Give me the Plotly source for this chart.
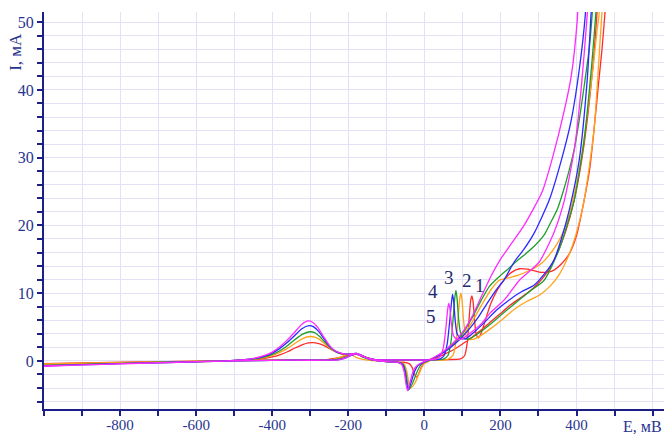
import plotly.graph_objects as go

# Potentiodynamic curves 1..5: forward sweep then reverse sweep (E in mV, I in mA)
E_fwd_1 = [-1000, -900, -800, -700, -600, -520, -480, -450, -420, -400, -380, -360, -340, -320, -305,
           -293, -280, -265, -250, -235, -220, -205, -190, -178, -165, -150, -130, -100, -50, 0,
           60, 95, 106, 113, 118, 122, 125, 128, 132, 136, 142, 150, 163, 175, 190,
           210, 230, 250, 275, 302, 325, 341, 360, 381, 400, 420, 435, 446, 458, 467, 475, 490]
I_fwd_1 = [-0.45, -0.35, -0.27, -0.18, -0.1, 0.0, 0.1, 0.2, 0.38, 0.58, 0.9, 1.35, 1.9, 2.4, 2.65,
           2.7, 2.6, 2.3, 1.85, 1.4, 1.05, 0.9, 0.95, 1.0, 0.8, 0.45, 0.2, 0.15, 0.15, 0.15,
           0.2, 0.3, 0.8, 2.8, 6.5, 9.0, 9.6, 8.8, 6.0, 4.0, 3.4, 4.2, 6.5, 8.5, 10.3,
           12.0, 13.1, 13.6, 13.5, 13.1, 13.1, 13.4, 14.3, 15.8, 18.5, 23.7, 28.5, 34.1, 41, 46, 51.5, 65]
E_rev_1 = [468, 454, 444, 420, 395, 372, 350, 325, 300, 275, 250, 225, 200, 175, 150,
           125, 100, 75, 50, 25, 10, 0, -8, -14, -20, -26, -32, -40, -55, -100,
           -130, -160, -178, -195, -215, -240, -265, -300, -400, -500, -600, -750, -900, -1000]
I_rev_1 = [65, 51.5, 44, 32, 24, 19.2, 16, 13.3, 11.5, 10.2, 9.2, 8.2, 7, 5.8, 4.6,
           3.5, 2.5, 1.6, 0.9, 0.3, 0.0, -0.3, -0.9, -1.8, -2.4, -2.0, -1.0, -0.4, -0.2, -0.1,
           0.1, 0.6, 0.95, 0.9, 0.6, 0.35, 0.15, 0.1, 0.1, 0.05, -0.05, -0.15, -0.3, -0.4]

E_fwd_2 = [-1000, -900, -800, -700, -600, -520, -480, -450, -420, -400, -380, -360, -340, -320, -300,
           -288, -274, -259, -244, -229, -214, -200, -188, -178, -165, -150, -130, -100, -50, 0,
           60, 75, 83, 89, 93, 96, 99, 103, 108, 116, 130, 150, 175, 200, 236,
           270, 302, 330, 354, 375, 394, 420, 446, 462, 467, 480]
I_fwd_2 = [-0.5, -0.4, -0.3, -0.2, -0.1, 0.0, 0.12, 0.25, 0.5, 0.8, 1.25, 1.85, 2.6, 3.3, 3.6,
           3.5, 3.1, 2.4, 1.7, 1.25, 1.0, 0.95, 1.0, 1.05, 0.8, 0.45, 0.2, 0.15, 0.15, 0.15,
           0.2, 0.8, 2.8, 6.5, 9.2, 10.0, 9.0, 6.0, 4.0, 3.2, 3.2, 3.8, 4.8, 5.9, 7.6,
           8.8, 9.7, 11.0, 12.7, 15.0, 17.8, 23.7, 34.1, 47.3, 51.5, 65]
E_rev_2 = [472, 459, 454, 444, 433, 418, 402, 385, 367, 348, 328, 310, 289, 270, 249,
           225, 197, 175, 150, 125, 100, 75, 50, 25, 10, 0, -7, -15, -25, -36,
           -41, -46, -53, -68, -100, -150, -175, -195, -210, -230, -255, -290, -400, -500, -600,
           -750, -900, -1000]
I_rev_2 = [65, 51, 48.8, 43.5, 38.5, 32, 26.7, 22.5, 19.3, 17.2, 15.6, 14.5, 13.7, 13.2, 12.7,
           12.3, 11.9, 10.5, 8.2, 5.7, 3.7, 2.3, 1.2, 0.35, -0.1, -0.4, -1.0, -2.0, -3.3, -4.0,
           -3.2, -1.6, -0.5, -0.2, -0.1, 0.1, 0.4, 0.95, 0.8, 0.35, 0.15, 0.1, 0.1, 0.05, -0.05,
           -0.2, -0.35, -0.45]

E_fwd_3 = [-1000, -900, -800, -700, -600, -520, -480, -450, -420, -400, -380, -360, -340, -320, -301,
           -290, -276, -261, -246, -231, -216, -201, -188, -178, -165, -150, -130, -100, -50, 0,
           50, 62, 70, 76, 80, 83, 86, 90, 95, 105, 120, 145, 175, 200, 249,
           280, 315, 354, 375, 394, 420, 441, 451, 465]
I_fwd_3 = [-0.7, -0.5, -0.38, -0.26, -0.13, 0.0, 0.13, 0.28, 0.6, 0.95, 1.5, 2.25, 3.15, 3.95, 4.3,
           4.2, 3.65, 2.75, 1.85, 1.3, 1.05, 1.0, 1.05, 1.1, 0.8, 0.45, 0.2, 0.15, 0.15, 0.15,
           0.25, 0.8, 2.8, 6.5, 9.3, 10.4, 9.2, 6.2, 4.2, 3.3, 3.3, 4.2, 5.5, 6.7, 9.0,
           10.4, 11.9, 16.4, 20.0, 23.7, 32.6, 44.4, 51.5, 65]
E_rev_3 = [458, 441, 433, 420, 407, 395, 381, 365, 349, 330, 315, 290, 262, 240, 223,
           200, 171, 150, 125, 100, 75, 50, 25, 10, -5, -13, -22, -31, -40, -44,
           -49, -56, -70, -100, -140, -160, -178, -195, -215, -240, -270, -350, -450, -550, -700,
           -850, -1000]
I_rev_3 = [65, 51, 45.9, 40.5, 35.5, 31.5, 28.2, 25, 22.3, 20.2, 18.6, 17.0, 15.6, 14.6, 13.7,
           12.6, 11.0, 9.0, 6.3, 4.0, 2.5, 1.3, 0.45, 0.0, -0.3, -0.9, -2.0, -3.3, -4.2, -3.4,
           -1.6, -0.5, -0.2, -0.1, 0.15, 0.5, 1.0, 0.85, 0.4, 0.15, 0.1, 0.1, 0.05, -0.05, -0.2,
           -0.45, -0.65]

E_fwd_4 = [-1000, -900, -800, -700, -600, -520, -480, -450, -420, -400, -380, -360, -340, -322, -303,
           -292, -278, -263, -248, -233, -218, -203, -190, -178, -165, -150, -130, -100, -50, 0,
           40, 52, 60, 66, 71, 74, 77, 81, 86, 95, 110, 130, 160, 190, 223,
           255, 289, 315, 341, 360, 381, 407, 428, 438, 452]
I_fwd_4 = [-0.75, -0.55, -0.4, -0.28, -0.15, 0.0, 0.15, 0.32, 0.72, 1.15, 1.85, 2.75, 3.8, 4.75, 5.2,
           5.05, 4.35, 3.2, 2.1, 1.4, 1.1, 1.0, 1.05, 1.1, 0.8, 0.45, 0.2, 0.15, 0.15, 0.15,
           0.25, 0.8, 2.5, 5.5, 8.5, 9.8, 8.8, 6.0, 4.0, 3.3, 3.3, 4.2, 5.8, 7.5, 9.0,
           10.2, 11.2, 12.8, 14.9, 18.0, 22.3, 29.6, 41.4, 51, 65]
E_rev_4 = [436, 423, 407, 386, 360, 328, 289, 262, 236, 210, 189, 165, 140, 115, 90,
           60, 35, 15, 0, -17, -26, -34, -42, -46, -51, -58, -70, -100, -140, -165,
           -180, -195, -212, -230, -260, -350, -450, -550, -700, -850, -1000]
I_rev_4 = [65, 51, 42.9, 35.5, 29.6, 23.7, 18.9, 16.5, 14.6, 12.0, 10.5, 8.5, 6.3, 4.5, 3.0,
           1.6, 0.7, 0.2, -0.15, -0.7, -1.6, -3.0, -4.3, -3.5, -1.6, -0.5, -0.2, -0.1, 0.2, 0.75,
           1.05, 0.75, 0.35, 0.15, 0.1, 0.1, 0.05, -0.05, -0.25, -0.5, -0.7]

E_fwd_5 = [-1000, -900, -800, -700, -600, -520, -480, -450, -420, -400, -380, -360, -340, -322, -306,
           -294, -280, -265, -250, -235, -220, -205, -190, -178, -165, -150, -130, -100, -50, 0,
           30, 42, 50, 56, 61, 64, 67, 71, 76, 85, 100, 125, 150, 175, 210,
           250, 302, 341, 368, 394, 412, 428, 442]
I_fwd_5 = [-0.8, -0.6, -0.45, -0.3, -0.15, 0.0, 0.15, 0.35, 0.8, 1.3, 2.1, 3.1, 4.3, 5.4, 5.9,
           5.7, 4.9, 3.6, 2.3, 1.5, 1.15, 1.0, 1.05, 1.1, 0.8, 0.45, 0.2, 0.15, 0.15, 0.15,
           0.25, 0.7, 2.0, 4.5, 7.5, 8.5, 7.8, 5.5, 3.8, 3.2, 3.3, 4.3, 5.5, 7.2, 9.0,
           11.9, 14.6, 19.0, 23.7, 31.1, 40.0, 51.0, 65]
E_rev_5 = [416, 402, 386, 368, 337, 310, 262, 225, 200, 175, 150, 125, 100, 75, 50,
           25, 10, -5, -20, -30, -37, -44, -48, -53, -60, -70, -100, -140, -165, -180,
           -195, -210, -225, -250, -350, -450, -550, -700, -850, -1000]
I_rev_5 = [65, 50.3, 42, 37, 30, 25, 20, 17, 15, 12.5, 9.5, 6.5, 4.2, 2.6, 1.4,
           0.5, 0.1, -0.2, -0.7, -1.6, -3.0, -4.4, -3.5, -1.6, -0.5, -0.2, -0.1, 0.2, 0.7, 1.05,
           0.8, 0.4, 0.15, 0.1, 0.1, 0.05, -0.05, -0.25, -0.5, -0.75]

curve_colors = ["#ff2a2a", "#ffa31a", "#1f9e2a", "#2a2aff", "#ff2aff"]

# curve number labels: (E, I) positions
label_text = ["1", "2", "3", "4", "5"]
label_E = [146, 111, 64, 22, 18]
label_I = [11.1, 11.8, 12.3, 10.2, 6.6]

x_tick_vals = list(range(-1000, 601, 100))
x_tick_labels = ["-800", "-600", "-400", "-200", "0", "200", "400"]
y_tick_vals = list(range(-6, 51, 2))
y_tick_labels = ["0", "10", "20", "30", "40", "50"]

AXIS = "#1c1f86"
TEXT = "#27348f"
GRID = "#e2e2f7"
FONT = "'Liberation Serif', 'Times New Roman', 'DejaVu Serif', serif"

curves = [
    (E_fwd_1, I_fwd_1, E_rev_1, I_rev_1),
    (E_fwd_2, I_fwd_2, E_rev_2, I_rev_2),
    (E_fwd_3, I_fwd_3, E_rev_3, I_rev_3),
    (E_fwd_4, I_fwd_4, E_rev_4, I_rev_4),
    (E_fwd_5, I_fwd_5, E_rev_5, I_rev_5),
]

fig = go.Figure()
for (ef, jf, er, jr), col in zip(curves, curve_colors):
    if len(ef) != len(jf) or len(er) != len(jr):
        raise ValueError("mismatched series lengths")
    fig.add_trace(go.Scatter(
        x=ef + er, y=jf + jr, mode="lines",
        line=dict(color=col, width=1.3, shape="spline", smoothing=0.6),
        hoverinfo="skip", showlegend=False,
    ))

x_text = [str(v) if str(v) in x_tick_labels else "" for v in x_tick_vals]
y_text = [str(v) if str(v) in y_tick_labels else "" for v in y_tick_vals]

fig.update_xaxes(
    range=[-1000, 630], tickmode="array", tickvals=x_tick_vals, ticktext=x_text,
    ticks="outside", ticklen=5, tickwidth=1.5, tickcolor=AXIS, ticklabelstandoff=-4,
    showline=True, linecolor=AXIS, linewidth=2,
    showgrid=True, gridcolor=GRID, gridwidth=1, zeroline=False, automargin=False,
    tickfont=dict(family=FONT, size=15, color=TEXT),
)
fig.update_yaxes(
    range=[-7.1, 51.5], tickmode="array", tickvals=y_tick_vals, ticktext=y_text,
    ticks="outside", ticklen=5, tickwidth=1.5, tickcolor=AXIS,
    showline=True, linecolor=AXIS, linewidth=2,
    showgrid=True, gridcolor=GRID, gridwidth=1, zeroline=False, automargin=False,
    tickfont=dict(family=FONT, size=16, color=TEXT),
)

annotations = [
    dict(text="I, мА", xref="paper", yref="paper", x=-0.045, y=0.9, textangle=-90,
         showarrow=False, font=dict(family=FONT, size=17, color=TEXT), xanchor="center", yanchor="middle"),
    dict(text="E, мВ", xref="paper", yref="paper", x=1.0, y=-0.045,
         showarrow=False, font=dict(family=FONT, size=16, color=TEXT), xanchor="right", yanchor="middle"),
]
for t, ex, iy in zip(label_text, label_E, label_I):
    annotations.append(dict(text=t, x=ex, y=iy, xref="x", yref="y", showarrow=False,
                            font=dict(family=FONT, size=19, color="#1f2a6e")))

fig.update_layout(
    width=670, height=434,
    margin=dict(l=44, r=6, t=12, b=25, autoexpand=False),
    plot_bgcolor="white", paper_bgcolor="white",
    showlegend=False, annotations=annotations,
)

fig.write_html("out.html", config={"displayModeBar": False})
